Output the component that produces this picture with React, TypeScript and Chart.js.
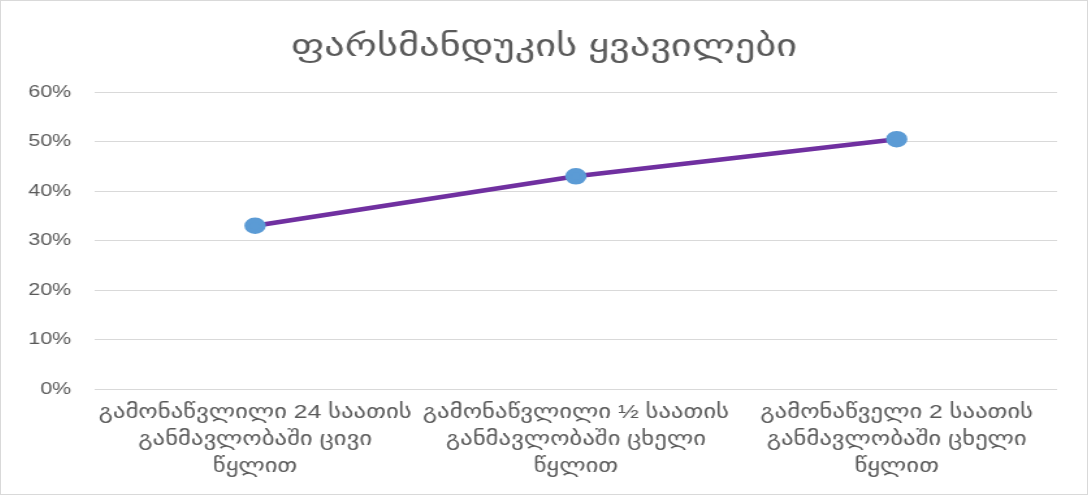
import React, { useEffect, useRef } from "react";
import { Chart, registerables } from "chart.js";

Chart.register(...registerables);

const titleText = "ფარსმანდუკის ყვავილები";
const categories: string[][] = [
  ["გამონაწვლილი 24 საათის", "განმავლობაში ცივი", "წყლით"],
  ["გამონაწვლილი ½ საათის", "განმავლობაში ცხელი", "წყლით"],
  ["გამონაწველი 2 საათის", "განმავლობაში ცხელი", "წყლით"],
];
const values: number[] = [0.33, 0.43, 0.505];
const yTicks: number[] = [0, 0.1, 0.2, 0.3, 0.4, 0.5, 0.6];

const FONT = "'Liberation Sans', 'DejaVu Sans', sans-serif";
const STRETCH = 1.3;
const CSS_W = 1086;
const CSS_H = 493;
const CANVAS_W = Math.round(CSS_W / STRETCH);

export default function App() {
  const ref = useRef<HTMLCanvasElement | null>(null);
  useEffect(() => {
    document.body.style.margin = "0";
    const ctx = ref.current!.getContext("2d")!;
    const chart = new Chart(ctx, {
      type: "line",
      data: {
        labels: categories,
        datasets: [
          {
            data: values,
            borderColor: "#7030A0",
            borderWidth: 4.5,
            pointBackgroundColor: "#5B9BD5",
            pointBorderColor: "#5B9BD5",
            pointRadius: 6,
            tension: 0,
            fill: false,
          },
        ],
      },
      options: {
        responsive: false,
        animation: false,
        devicePixelRatio: 1,
        layout: { padding: 0 },
        plugins: {
          legend: { display: false },
          tooltip: { enabled: false },
          title: {
            display: true,
            text: titleText,
            color: "#595959",
            font: { family: FONT, size: 31, weight: "normal", lineHeight: 1.2 },
            padding: { top: 28, bottom: 26 },
          },
        },
        scales: {
          x: {
            offset: true,
            grid: { display: false, drawTicks: false },
            border: { display: false },
            ticks: {
              color: "#595959",
              font: { family: FONT, size: 19, lineHeight: 1.42 },
              padding: 10,
              maxRotation: 0,
              minRotation: 0,
              autoSkip: false,
            },
            afterFit: (s: any) => {
              s.height = 105;
            },
          },
          y: {
            min: 0,
            max: 0.6,
            afterBuildTicks: (s: any) => {
              s.ticks = yTicks.map((v) => ({ value: v }));
            },
            grid: { color: "#d9d9d9", lineWidth: 1, drawTicks: false },
            border: { display: false },
            ticks: {
              color: "#595959",
              font: { family: FONT, size: 16.5 },
              padding: 18,
              callback: (v: any) => Math.round(Number(v) * 100) + "%",
            },
            afterFit: (s: any) => {
              s.width = 72;
            },
          },
          yRight: {
            position: "right",
            display: true,
            min: 0,
            max: 1,
            grid: { display: false, drawTicks: false },
            border: { display: false },
            ticks: { display: false },
            afterFit: (s: any) => {
              s.width = 23;
            },
          },
        },
      },
    });
    return () => chart.destroy();
  }, []);
  return (
    <div
      style={{
        position: "absolute",
        left: 0,
        top: 0,
        width: 1088,
        height: 495,
        boxSizing: "border-box",
        border: "1px solid #d9d9d9",
        background: "#fff",
      }}
    >
      <canvas
        ref={ref}
        width={CANVAS_W}
        height={CSS_H}
        style={{ display: "block", width: CSS_W, height: CSS_H }}
      />
    </div>
  );
}
